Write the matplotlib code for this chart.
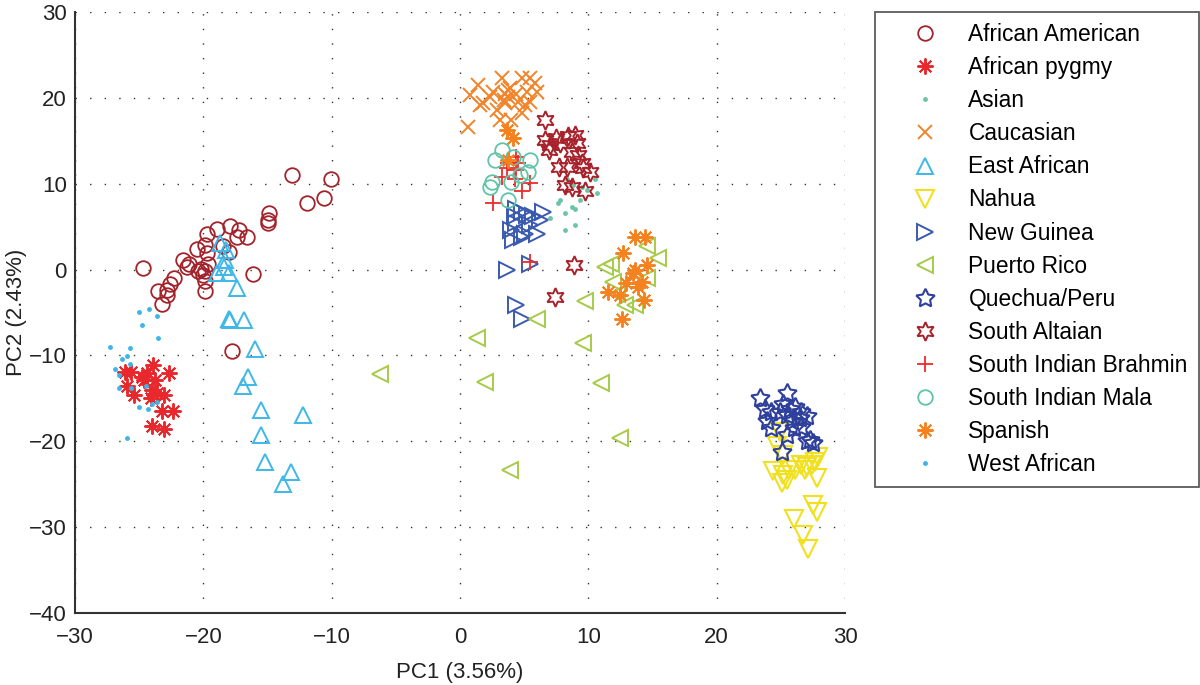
import matplotlib
matplotlib.use("Agg")
import matplotlib.pyplot as plt

plt.rcParams['font.family'] = ['Liberation Sans', 'DejaVu Sans']

african_american_x = [-13.1, -10.05, -11.9, -10.6, -14.9, -15.0, -15.0, -17.9, -18.9, -19.7, -17.2, -16.6, -17.4,
                      -18.5, -19.85, -20.5, -18.0, -19.7, -21.6, -21.1, -21.3, -20.2, -19.85, -19.6, -20.0, -19.85,
                      -19.85, -24.7, -22.3, -22.6, -22.8, -23.5, -22.8, -23.2, -16.1, -17.8, -20.4]
african_american_y = [11.0, 10.6, 7.8, 8.3, 6.6, 5.8, 5.4, 5.1, 4.7, 4.1, 4.6, 3.8, 3.8,
                      2.7, 2.9, 2.4, 2.1, 1.9, 1.1, 0.7, 0.3, 0.1, -0.2, 0.7, -0.6, -1.3,
                      -2.5, 0.15, -1.0, -1.7, -2.4, -2.5, -3.0, -4.0, -0.5, -9.5, -0.2]

african_pygmy_x = [-26.1, -25.6, -23.9, -22.7, -24.8, -24.4, -23.75, -25.95, -25.4, -24.0, -23.6, -23.1, -24.1,
                   -23.2, -22.4, -24.0, -23.1, -24.65]
african_pygmy_y = [-11.9, -11.9, -11.1, -12.1, -12.5, -12.1, -12.9, -13.6, -14.6, -14.0, -14.4, -14.6, -15.0,
                   -16.5, -16.5, -18.2, -18.6, -12.9]

asian_x = [8.3, 10.5, 8.8, 9.5, 9.9, 10.65, 7.8, 7.65, 9.35, 8.7, 8.95, 8.2, 7.0, 8.95, 8.2]
asian_y = [10.6, 10.6, 9.85, 9.65, 9.3, 8.96, 8.1, 7.7, 8.1, 7.3, 7.1, 6.55, 6.0, 5.2, 4.6]

caucasian_x = [1.43, 3.25, 4.8, 5.85, 5.45, 3.9, 2.6, 3.5, 4.4, 5.2, 6.0, 0.8, 1.8, 1.55, 3.4, 3.75, 4.55,
               5.45, 2.85, 3.1, 4.0, 4.8, 5.05, 0.65, 3.5, 2.35, 3.75]
caucasian_y = [21.5, 22.3, 22.3, 21.7, 22.3, 21.1, 20.7, 20.5, 20.5, 20.7, 20.7, 20.3, 19.4, 19.2, 19.75, 20.1, 19.55,
               19.55, 18.6, 17.4, 17.4, 18.2, 19.2, 16.6, 19.4, 20.1, 20.9]

east_african_x = [-18.7, -18.2, -18.3, -18.4, -18.0, -18.9, -17.4, -18.0, -17.9, -16.8, -16.0, -16.5, -16.9,
                  -15.5, -12.2, -15.5, -15.2, -13.2, -13.8]
east_african_y = [3.1, 2.3, 1.1, 0.35, -0.4, -0.4, -2.2, -5.7, -5.9, -5.9, -9.2, -12.5, -13.6,
                  -16.4, -16.9, -19.3, -22.4, -23.6, -25.0]

nahua_x = [24.95, 24.7, 25.2, 27.9, 27.65, 24.4, 25.6, 26.1, 26.6, 27.0, 27.4, 26.9, 25.2, 25.45, 25.1,
           27.8, 27.5, 27.8, 26.0, 26.75, 27.15]
nahua_y = [-18.9, -20.6, -21.6, -21.8, -22.4, -23.5, -23.3, -23.3, -22.75, -22.95, -22.75, -23.3, -23.9, -24.5, -24.9,
           -24.3, -27.4, -28.2, -29.0, -30.9, -32.5]

new_guinea_x = [4.4, 4.8, 6.5, 4.3, 5.2, 5.7, 6.2, 4.4, 5.45, 4.0, 5.05, 6.0, 4.15, 4.8, 3.65, 5.45, 4.4, 4.8]
new_guinea_y = [7.1, 6.75, 6.75, 6.2, 6.4, 6.2, 5.8, 5.4, 5.2, 4.6, 4.2, 4.2, 3.45, 3.8, -0.05, 0.7, -4.1, -5.7]

puerto_rico_x = [14.55, 15.45, 11.3, 11.8, 11.95, 9.75, 12.85, 13.6, 12.2, 6.0, 1.3, 9.6, 1.95, 11.0, 12.5,
                 3.9, -6.2, 14.6]
puerto_rico_y = [2.7, 1.3, 0.3, 0.7, -1.4, -3.7, -4.1, -4.1, -2.8, -5.7, -8.0, -8.6, -13.05, -13.2, -19.65,
                 -23.3, -12.2, -1.0]

quechua_x = [23.4, 25.45, 25.2, 23.8, 24.2, 26.1, 26.6, 24.95, 25.45, 26.5, 27.0, 23.9, 25.85, 24.2, 26.0,
             26.6, 25.45, 27.3, 27.5, 27.0, 25.1, 25.7]
quechua_y = [-15.0, -14.4, -15.6, -16.2, -16.55, -15.95, -16.55, -16.55, -16.9, -17.3, -17.1, -17.65, -17.65, -18.5,
             -18.5, -18.3, -19.3, -19.85, -20.2, -20.0, -21.2, -16.2]

south_altaian_x = [6.6, 6.6, 7.0, 6.9, 7.5, 7.8, 8.4, 8.95, 9.1, 8.7, 9.2, 7.7, 8.3, 9.5, 10.1, 9.6, 8.2,
                   8.7, 9.75, 8.85, 7.4]
south_altaian_y = [17.4, 15.1, 14.5, 13.9, 15.3, 14.7, 15.5, 15.7, 14.7, 13.7, 13.35, 12.0, 12.0, 12.4, 11.4, 11.8,
                   9.85, 9.65, 9.1, 0.55, -3.2]

brahmin_x = [4.4, 3.75, 4.55, 3.65, 4.4, 3.25, 4.3, 5.45, 4.8, 2.6, 5.45]
brahmin_y = [13.15, 12.4, 12.4, 11.8, 11.6, 10.8, 10.6, 10.05, 9.1, 7.7, 0.9]

mala_x = [3.25, 2.7, 5.45, 5.3, 2.5, 2.35, 4.0, 3.75, 4.7, 4.15]
mala_y = [13.9, 12.8, 12.8, 11.4, 10.2, 9.65, 10.2, 8.1, 11.0, 13.15]

spanish_x = [3.65, 4.15, 3.75, 13.6, 14.4, 12.7, 14.55, 13.6, 13.5, 14.15, 12.95, 13.9, 11.55, 12.5, 14.3, 12.6]
spanish_y = [16.3, 15.3, 12.8, 3.8, 3.8, 1.9, 0.5, -0.05, -0.4, -1.4, -1.6, -2.0, -2.6, -3.0, -3.5, -5.7]

west_african_x = [-25.0, -24.2, -23.6, -24.8, -23.5, -27.3, -25.7, -25.95, -26.3, -26.9, -25.7, -26.55, -26.6,
                  -25.6, -24.5, -25.0, -24.3, -23.6, -25.95, -24.0]
west_african_y = [-4.9, -4.6, -5.4, -6.5, -8.0, -9.0, -9.1, -10.1, -10.4, -11.6, -11.0, -12.3, -13.75,
                  -13.8, -13.6, -16.0, -16.2, -15.4, -19.65, -15.6]

groups = [
    ("African American", african_american_x, african_american_y),
    ("African pygmy", african_pygmy_x, african_pygmy_y),
    ("Asian", asian_x, asian_y),
    ("Caucasian", caucasian_x, caucasian_y),
    ("East African", east_african_x, east_african_y),
    ("Nahua", nahua_x, nahua_y),
    ("New Guinea", new_guinea_x, new_guinea_y),
    ("Puerto Rico", puerto_rico_x, puerto_rico_y),
    ("Quechua/Peru", quechua_x, quechua_y),
    ("South Altaian", south_altaian_x, south_altaian_y),
    ("South Indian Brahmin", brahmin_x, brahmin_y),
    ("South Indian Mala", mala_x, mala_y),
    ("Spanish", spanish_x, spanish_y),
    ("West African", west_african_x, west_african_y),
]

styles = {
    "African American": dict(marker='o', color='#A3232B', ms=10.5, mfc='none', mew=1.3),
    "African pygmy": dict(marker=(8, 2, 0), color='#E8282C', ms=11.5, mew=1.4),
    "Asian": dict(marker='o', color='#6CC3A5', ms=3.5, mew=0),
    "Caucasian": dict(marker='x', color='#F2842A', ms=10, mew=1.4),
    "East African": dict(marker='^', color='#3DB8E8', ms=12, mfc='none', mew=1.4),
    "Nahua": dict(marker='v', color='#F0E01E', ms=12.5, mfc='none', mew=1.5),
    "New Guinea": dict(marker='>', color='#3A5AAE', ms=12, mfc='none', mew=1.4),
    "Puerto Rico": dict(marker='<', color='#A6CB48', ms=12, mfc='none', mew=1.4),
    "Quechua/Peru": dict(marker=(5, 1, 0), color='#2E409C', ms=14, mfc='none', mew=1.5),
    "South Altaian": dict(marker=(6, 1, 0), color='#A8222C', ms=13.5, mfc='none', mew=1.4),
    "South Indian Brahmin": dict(marker='+', color='#EE2A2A', ms=12, mew=1.3),
    "South Indian Mala": dict(marker='o', color='#5FC4A8', ms=10.5, mfc='none', mew=1.3),
    "Spanish": dict(marker=(8, 2, 0), color='#F5821F', ms=11.5, mew=1.4),
    "West African": dict(marker='o', color='#3BB6E6', ms=3.5, mew=0),
}

fig = plt.figure(figsize=(12, 6.85), dpi=100)
ax = fig.add_axes([0.0625, 0.105, 0.6417, 0.8775])

for name, xs, ys in groups:
    st = dict(styles[name])
    ax.plot(xs, ys, linestyle='none', label=name, **st)

ax.set_xlim(-30, 30)
ax.set_ylim(-40, 30)
ax.set_xticks(range(-30, 31, 10))
ax.set_yticks(range(-40, 31, 10))
ax.set_xticklabels(['\u221230', '\u221220', '\u221210', '0', '10', '20', '30'])
ax.set_yticklabels(['\u221240', '\u221230', '\u221220', '\u221210', '0', '10', '20', '30'])
ax.grid(True, color='#333333', linestyle=(0, (1, 9.5)), linewidth=1.0)
ax.set_axisbelow(True)
for s in ['top', 'right']:
    ax.spines[s].set_visible(False)
for s in ['left', 'bottom']:
    ax.spines[s].set_linewidth(1.5)
    ax.spines[s].set_color('#333333')
ax.tick_params(direction='in', length=0, labelsize=16, colors='#222222')
ax.tick_params(axis='x', pad=10)
ax.tick_params(axis='y', pad=6)
ax.set_xlabel('PC1 (3.56%)', fontsize=16, color='#222222', labelpad=10)
ax.set_ylabel('PC2 (2.43%)', fontsize=16, color='#222222', labelpad=1)

leg = fig.legend(loc='upper left', bbox_to_anchor=(875 / 1200, 1 - 12 / 685), fontsize=16.4,
                 frameon=True, fancybox=False, borderaxespad=0, labelspacing=0.44,
                 handletextpad=0.2, borderpad=0.5, handlelength=3.4)
leg.get_frame().set_edgecolor('#333333')
leg.get_frame().set_linewidth(1.3)

fig.savefig('out.png', dpi=100)
